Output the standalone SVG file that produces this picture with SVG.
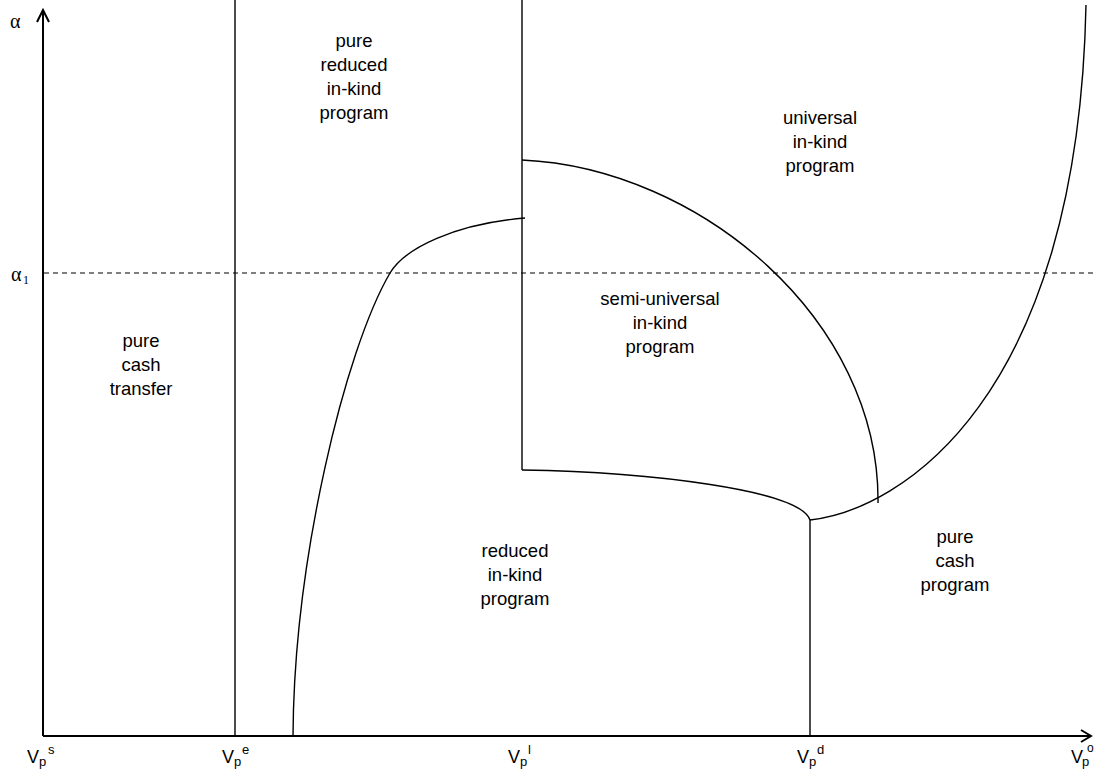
<svg xmlns="http://www.w3.org/2000/svg" width="1094" height="775" viewBox="0 0 1094 775">
<style>
.ax{stroke:#000;stroke-width:2;fill:none}
.ln{stroke:#000;stroke-width:1.4;fill:none}
.ds{stroke:#000;stroke-width:1.2;stroke-dasharray:5,4;fill:none}
.lb{font-family:"Liberation Sans",Arial,sans-serif;font-size:18.5px;fill:#000;text-anchor:middle}
.v{font-family:"Liberation Sans",Arial,sans-serif;font-size:18px;fill:#000}
.vs{font-family:"Liberation Sans",Arial,sans-serif;font-size:13px;fill:#000}
.g{font-family:"Liberation Serif","Times New Roman",serif;font-size:20px;fill:#000}
.gs{font-family:"Liberation Serif","Times New Roman",serif;font-size:12px;fill:#000}
</style>
<rect width="1094" height="775" fill="#fff"/>
<g id="axes">
<line class="ax" x1="43" y1="736" x2="43" y2="10"/>
<polyline class="ax" points="37,22 43,10 49,22"/>
<line class="ax" x1="43" y1="736" x2="1091" y2="736"/>
<polyline class="ax" points="1081,730 1091,736 1081,742"/>
</g>
<g id="connectors">
<line class="ds" x1="44" y1="273" x2="1094" y2="273"/>
<line class="ln" x1="235" y1="0" x2="235" y2="736"/>
<line class="ln" x1="522" y1="0" x2="522" y2="470"/>
<line class="ln" x1="810" y1="520" x2="810" y2="736"/>
<path class="ln" d="M293,736 C294,560 345,350 390,273 C405,248 455,224 525,218"/>
<path class="ln" d="M522,160 C700,168 880,320 878,503"/>
<path class="ln" d="M522,470 C650,472 800,490 810,520"/>
<path class="ln" d="M810,520 C900,510 1078,400 1086,5"/>
</g>
<g id="axis-labels">
<text class="g" x="10" y="28">α</text>
<text class="g" x="11" y="281">α</text><text class="gs" x="23" y="284">1</text>
<g><text class="v" x="27" y="763">V</text><text class="vs" x="39" y="766">p</text><text class="vs" x="48" y="754">s</text></g>
<g><text class="v" x="222" y="763">V</text><text class="vs" x="234" y="766">p</text><text class="vs" x="242" y="754">e</text></g>
<g><text class="v" x="508" y="763">V</text><text class="vs" x="520" y="766">p</text><text class="vs" x="528" y="754">l</text></g>
<g><text class="v" x="797" y="763">V</text><text class="vs" x="809" y="766">p</text><text class="vs" x="817" y="754">d</text></g>
<g><text class="v" x="1071" y="763">V</text><text class="vs" x="1082" y="766">p</text><text class="vs" x="1087" y="752" style="font-size:12px">o</text></g>
</g>
<g id="pure-reduced"><text class="lb" x="354" y="47">pure</text><text class="lb" x="354" y="71">reduced</text><text class="lb" x="354" y="95">in-kind</text><text class="lb" x="354" y="119">program</text></g>
<g id="universal"><text class="lb" x="820" y="124">universal</text><text class="lb" x="820" y="148">in-kind</text><text class="lb" x="820" y="172">program</text></g>
<g id="semi-universal"><text class="lb" x="660" y="305">semi-universal</text><text class="lb" x="660" y="329">in-kind</text><text class="lb" x="660" y="353">program</text></g>
<g id="pure-cash-transfer"><text class="lb" x="141" y="347">pure</text><text class="lb" x="141" y="371">cash</text><text class="lb" x="141" y="395">transfer</text></g>
<g id="reduced-inkind"><text class="lb" x="515" y="557">reduced</text><text class="lb" x="515" y="581">in-kind</text><text class="lb" x="515" y="605">program</text></g>
<g id="pure-cash-program"><text class="lb" x="955" y="543">pure</text><text class="lb" x="955" y="567">cash</text><text class="lb" x="955" y="591">program</text></g>
</svg>
